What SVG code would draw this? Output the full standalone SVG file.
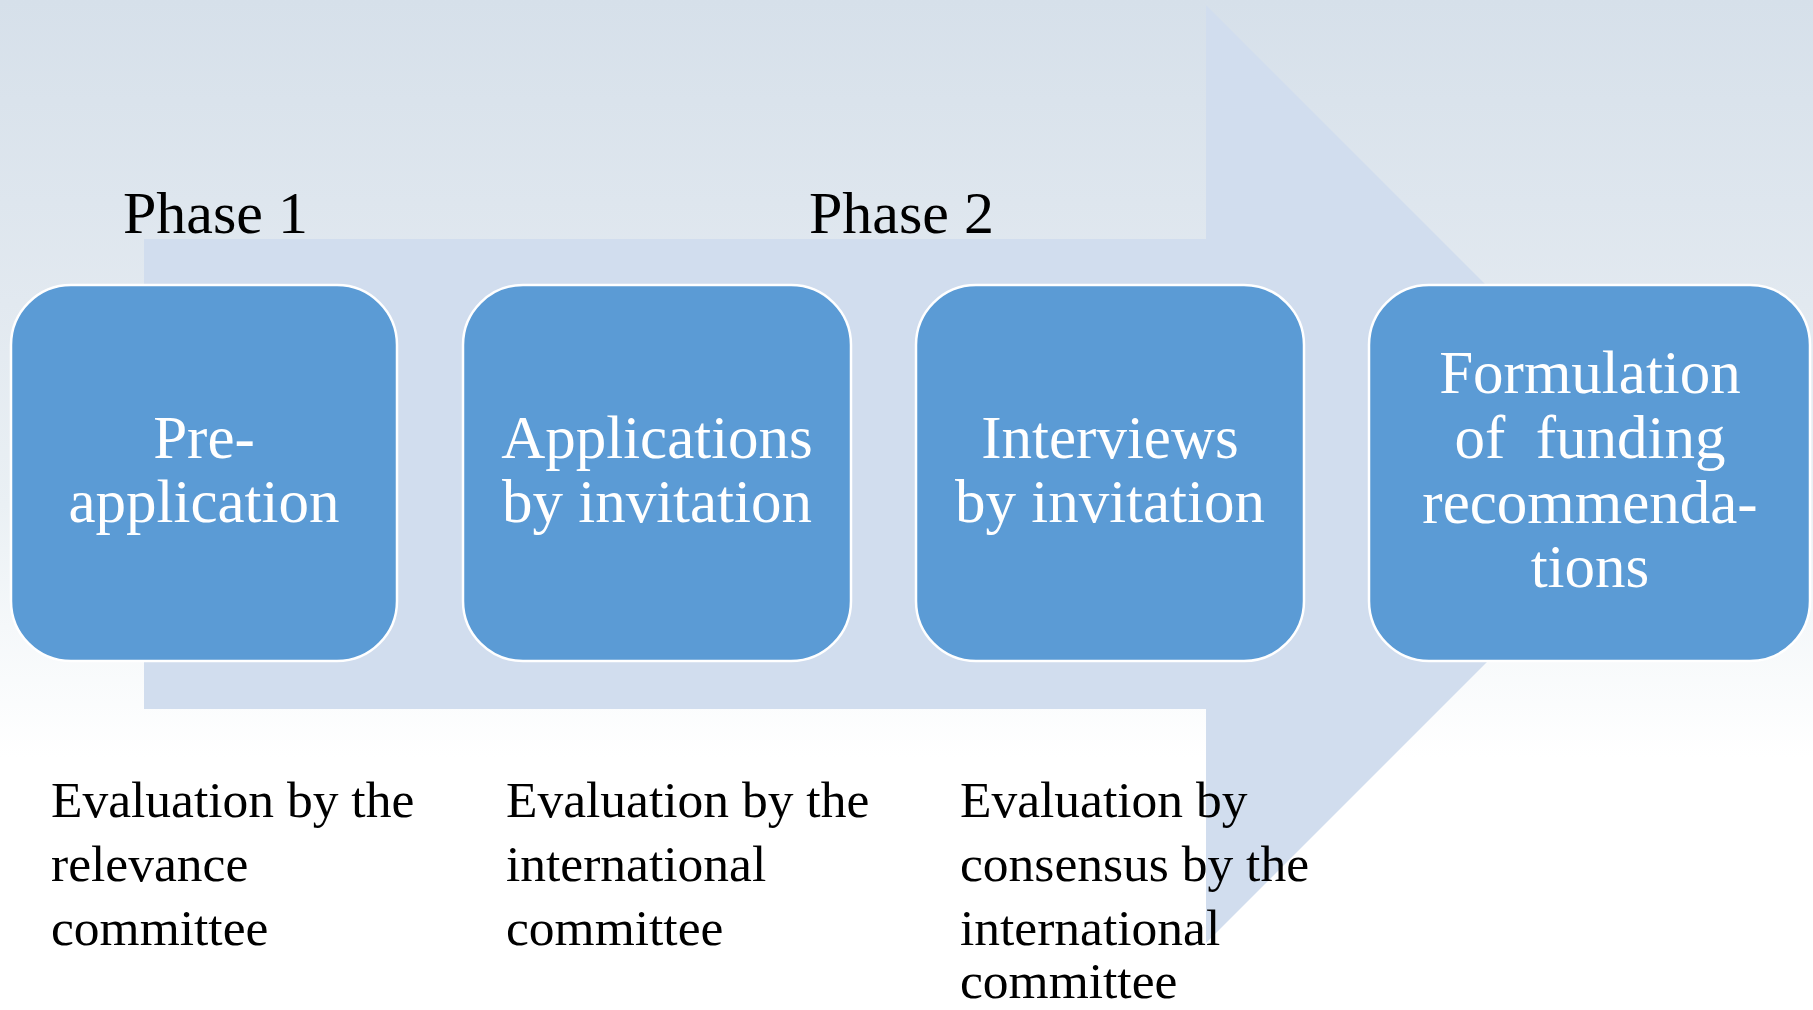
<svg xmlns="http://www.w3.org/2000/svg" width="1813" height="1010" viewBox="0 0 1813 1010">
<defs>
<linearGradient id="bg" x1="0" y1="0" x2="0" y2="1">
<stop offset="0" stop-color="#D6E0EA"/>
<stop offset="0.3" stop-color="#E2E9F0"/>
<stop offset="0.5" stop-color="#EAF0F4"/>
<stop offset="0.62" stop-color="#F5F8FA"/>
<stop offset="0.75" stop-color="#FFFFFF"/>
<stop offset="1" stop-color="#FFFFFF"/>
</linearGradient>
<style>
.box{fill:#5B9BD5;stroke:#FFFFFF;stroke-width:2.5}
.bt{font-family:"Liberation Serif","Times New Roman",serif;font-size:61px;fill:#FFFFFF;text-anchor:middle}
.ph{font-family:"Liberation Serif","Times New Roman",serif;font-size:60px;fill:#000000}
.ev{font-family:"Liberation Serif","Times New Roman",serif;font-size:51.5px;fill:#000000}
</style>
</defs>
<rect x="0" y="0" width="1813" height="1010" fill="url(#bg)"/>
<g id="connectors">
<polygon id="arrow" points="144,239 1206,239 1206,5 1675,474 1206,943 1206,709 144,709" fill="#D1DDEE"/>
</g>
<g id="phase1"><text class="ph" x="123" y="233">Phase 1</text></g>
<g id="phase2"><text class="ph" x="809" y="233">Phase 2</text></g>
<g id="node1">
<rect class="box" x="11" y="285" width="386" height="376" rx="60" ry="60"/>
<text class="bt" x="204" y="458">Pre-</text>
<text class="bt" x="204" y="522">application</text>
</g>
<g id="node2">
<rect class="box" x="463" y="285" width="388" height="376" rx="60" ry="60"/>
<text class="bt" x="657" y="458">Applications</text>
<text class="bt" x="657" y="522">by invitation</text>
</g>
<g id="node3">
<rect class="box" x="916" y="285" width="388" height="376" rx="60" ry="60"/>
<text class="bt" x="1110" y="458">Interviews</text>
<text class="bt" x="1110" y="522">by invitation</text>
</g>
<g id="node4">
<rect class="box" x="1369" y="285" width="441" height="376" rx="60" ry="60"/>
<text class="bt" x="1590" y="393">Formulation</text>
<text class="bt" x="1590" y="458" xml:space="preserve">of  funding</text>
<text class="bt" x="1590" y="523">recommenda-</text>
<text class="bt" x="1590" y="587">tions</text>
</g>
<g id="eval1">
<text class="ev" x="51" y="817">Evaluation by the</text>
<text class="ev" x="51" y="881">relevance</text>
<text class="ev" x="51" y="945">committee</text>
</g>
<g id="eval2">
<text class="ev" x="506" y="817">Evaluation by the</text>
<text class="ev" x="506" y="881">international</text>
<text class="ev" x="506" y="945">committee</text>
</g>
<g id="eval3">
<text class="ev" x="960" y="817">Evaluation by</text>
<text class="ev" x="960" y="881">consensus by the</text>
<text class="ev" x="960" y="945">international</text>
<text class="ev" x="960" y="998">committee</text>
</g>
</svg>
